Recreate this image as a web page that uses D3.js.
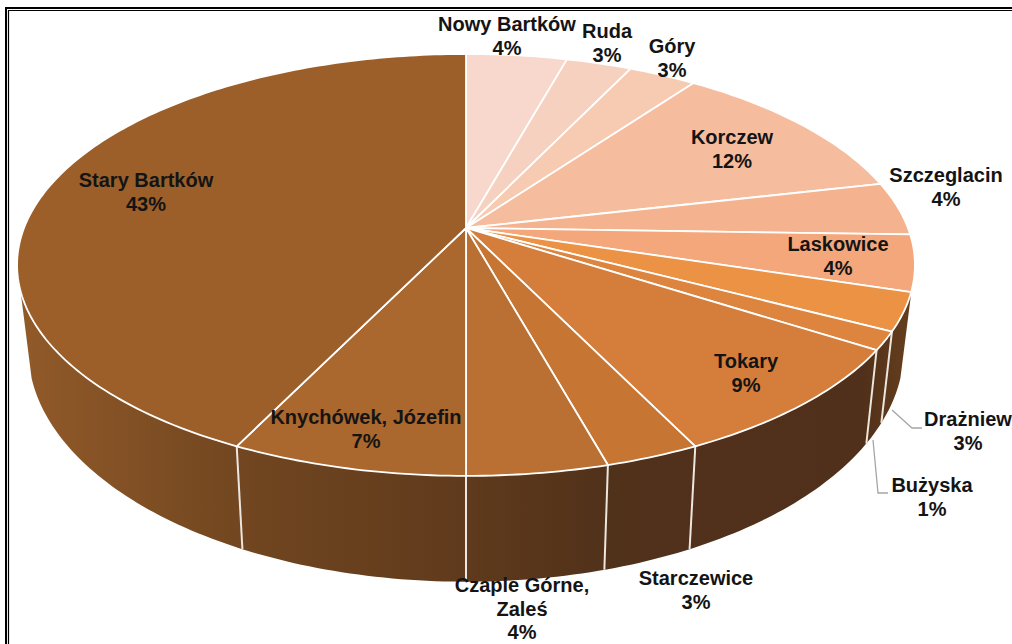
<!DOCTYPE html>
<html>
<head>
<meta charset="utf-8">
<script src="https://cdn.jsdelivr.net/npm/d3@7"></script>
<style>
  html, body { margin: 0; padding: 0; background: #fff; overflow: hidden; }
  text { font-family: "Liberation Sans", Arial, sans-serif; font-weight: bold; font-size: 20px; fill: #141414; text-anchor: middle; }
</style>
</head>
<body>
<div id="chart"></div>
<script>
// Data, clockwise from 12 o'clock
const categories = ["Nowy Bartków", "Ruda", "Góry", "Korczew", "Szczeglacin", "Laskowice", "Drażniew", "Bużyska", "Tokary", "Starczewice", "Czaple Górne, Zaleś", "Knychówek, Józefin", "Stary Bartków"];
const shares = [4.3, 2.8, 2.9, 11.4, 4.1, 4.3, 2.9, 1.4, 8.7, 2.9, 4.3, 7.2, 42.8];
const percentLabels = ["4%", "3%", "3%", "12%", "4%", "4%", "3%", "1%", "9%", "3%", "4%", "7%", "43%"];
const sliceColors = ["#f8d8cd", "#f6d1bf", "#f6cbb2", "#f6bc9e", "#f4b38e", "#f4a77a", "#ec9244", "#dd843e", "#d57e3b", "#c67533", "#ba7033", "#aa672e", "#9c5f2a"];

const width = 1012;
const height = 644;

// Perspective of the disc: far side squeezed, near side stretched
const tilt = 0.175;
const topFace = { x: 466, y: 228, rx: 442, ry: 204.5 };
const bottomFace = { x: 466, y: 309, rx: 431, ry: 225 };

function project(face, angle) {
  const u = Math.sin(angle);
  const v = -Math.cos(angle);
  const w = 1 - tilt * v;
  return [face.x + face.rx * u / w, face.y + face.ry * v / w];
}

function rim(face, a0, a1) {
  const n = Math.max(2, Math.ceil(Math.abs(a1 - a0) * 60));
  return d3.range(n + 1).map(i => project(face, a0 + (a1 - a0) * i / n));
}

const line = d3.line();
const color = d3.scaleOrdinal(categories, sliceColors);
const pie = d3.pie().sort(null).value(d => d.share);
const slices = pie(categories.map((name, i) => ({ name, share: shares[i], label: percentLabels[i] })));

const svg = d3.select('#chart')
  .append('svg')
  .attr('width', width)
  .attr('height', height);

// Double frame, only top and left are in the picture
svg.append('path').attr('d', 'M6,644V8H1012').attr('fill', 'none').attr('stroke', '#000').attr('stroke-width', 2);
svg.append('path').attr('d', 'M8.5,644V10.5H1012').attr('fill', 'none').attr('stroke', '#000').attr('stroke-width', 1.2);

// Wall gradient
const grad = svg.append('defs').append('linearGradient')
  .attr('id', 'wall')
  .attr('gradientUnits', 'userSpaceOnUse')
  .attr('x1', 18).attr('x2', 916).attr('y1', 0).attr('y2', 0);
[[0, '#925a29'], [0.25, '#714620'], [0.5, '#5f3a1c'], [0.66, '#50311a'], [0.94, '#50301a'], [0.97, '#5c381b'], [1, '#683f1e']]
  .forEach(s => grad.append('stop').attr('offset', s[0]).attr('stop-color', s[1]));

// Visible part of the wall
const wallStart = 107 * Math.PI / 180;
const wallEnd = 253 * Math.PI / 180;
svg.append('path')
  .attr('d', line(rim(topFace, wallStart, wallEnd).concat(rim(bottomFace, wallEnd, wallStart))) + 'Z')
  .attr('fill', 'url(#wall)');

// Wall seams, the one on the silhouette edge is not drawn
svg.selectAll('.seam')
  .data(slices.filter(d => d.endAngle > wallStart + 0.1 && d.endAngle < wallEnd))
  .join('path')
  .attr('class', 'seam')
  .attr('d', d => line([project(topFace, d.endAngle), project(bottomFace, d.endAngle)]))
  .attr('stroke', '#ece6df')
  .attr('stroke-width', 2)
  .attr('fill', 'none');

// Top of the pie
svg.selectAll('.slice')
  .data(slices)
  .join('path')
  .attr('class', 'slice')
  .attr('d', d => line([[topFace.x, topFace.y]].concat(rim(topFace, d.startAngle, d.endAngle))) + 'Z')
  .attr('fill', d => color(d.data.name))
  .attr('stroke', '#fff')
  .attr('stroke-width', 1.8)
  .attr('stroke-linejoin', 'round');

// Leader lines
const leaders = [
  [[892, 410], [912, 428], [922, 428]],
  [[873, 440], [878, 493], [888, 493]]
];
svg.selectAll('.leader')
  .data(leaders)
  .join('path')
  .attr('class', 'leader')
  .attr('d', d => line(d))
  .attr('fill', 'none')
  .attr('stroke', '#a6a6a6')
  .attr('stroke-width', 1.3);

// Label placement: centre x and first baseline
const labelPlace = {
  "Nowy Bartków": [507, 31],
  "Ruda": [607, 38],
  "Góry": [672, 53],
  "Korczew": [732, 144],
  "Szczeglacin": [946, 182],
  "Laskowice": [838, 251],
  "Drażniew": [968, 426],
  "Bużyska": [932, 492],
  "Tokary": [746, 368],
  "Starczewice": [696, 585],
  "Czaple Górne, Zaleś": [522, 592],
  "Knychówek, Józefin": [366, 424],
  "Stary Bartków": [146, 187]
};
const labelBreaks = { "Czaple Górne, Zaleś": ["Czaple Górne,", "Zaleś"] };

slices.forEach(d => {
  const place = labelPlace[d.data.name];
  const rows = (labelBreaks[d.data.name] || [d.data.name]).concat(d.data.label);
  const text = svg.append('text').attr('x', place[0]).attr('y', place[1]);
  rows.forEach((row, i) => {
    text.append('tspan')
      .attr('x', place[0])
      .attr('dy', i ? 23.5 : 0)
      .text(row);
  });
});
</script>
</body>
</html>
